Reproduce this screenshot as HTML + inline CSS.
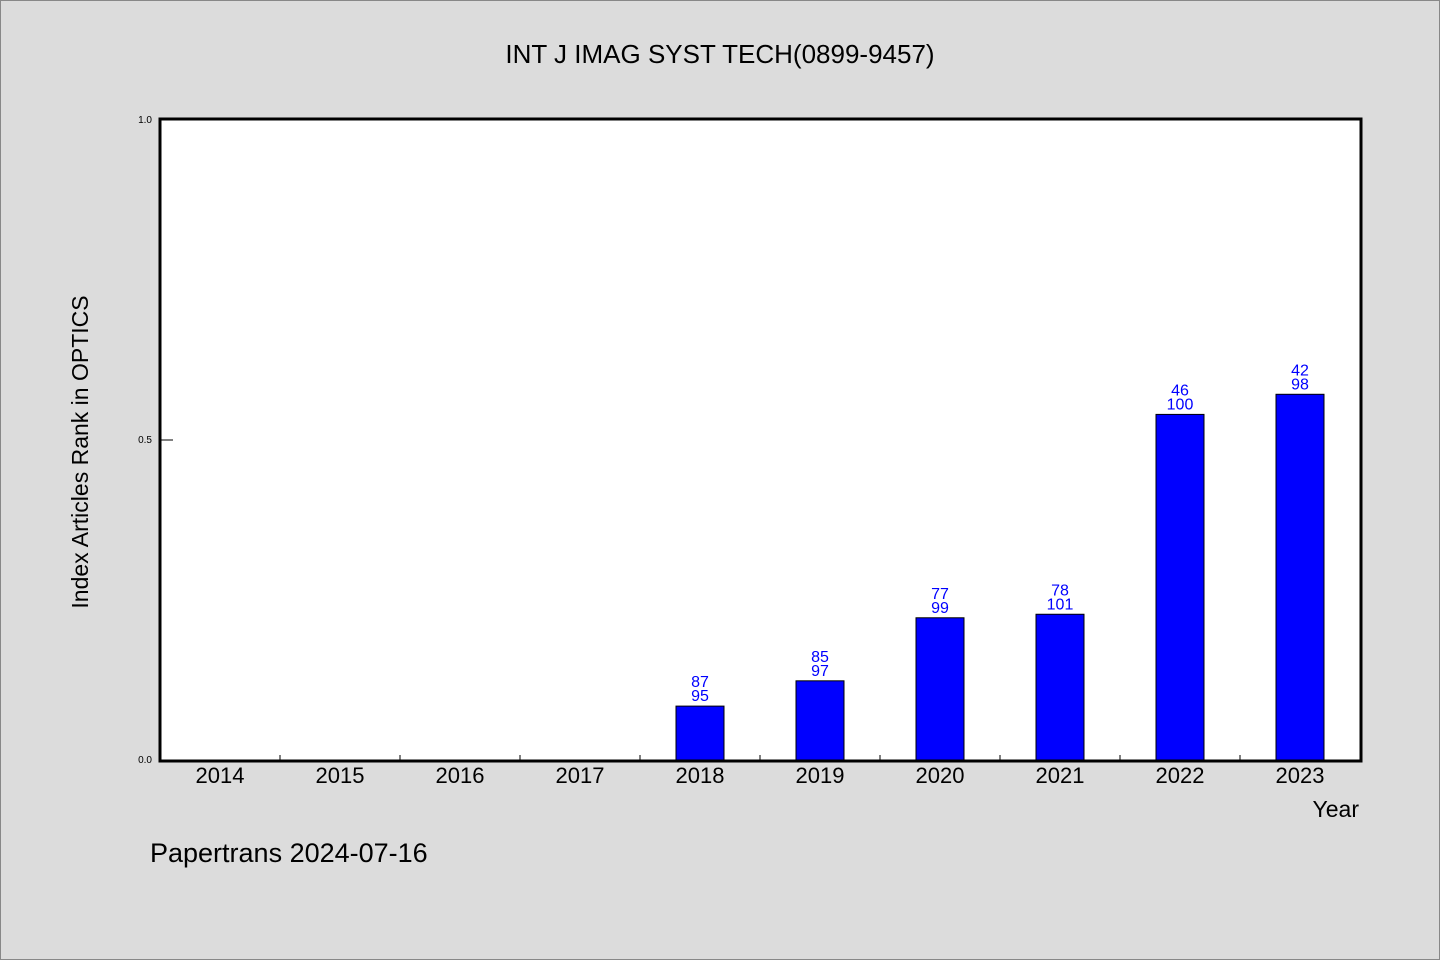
<!DOCTYPE html>
<html><head><meta charset="utf-8"><style>
body{margin:0;background:#dcdcdc}
svg{display:block}
text{font-family:"WenQuanYi Zen Hei","Liberation Sans",sans-serif}
</style></head><body>
<svg id="c" width="1440" height="960">
<rect x="0.5" y="0.5" width="1439" height="959" fill="#dcdcdc" stroke="#888"/>
<text x="720" y="63" text-anchor="middle" font-size="26">INT J IMAG SYST TECH(0899-9457)</text>
<rect x="160" y="119" width="1201" height="642" fill="#fff" stroke="#000" stroke-width="3"/>
<text transform="translate(88,452) rotate(-90)" text-anchor="middle" font-size="23">Index Articles Rank in OPTICS</text>
<text x="1359" y="817" text-anchor="end" font-size="23">Year</text>
<text x="150" y="862" font-size="27">Papertrans 2024-07-16</text>
<g id="g"></g>
</svg>
<script>
const years=["2014","2015","2016","2017","2018","2019","2020","2021","2022","2023"];
const ranks=[null,null,null,null,87,85,77,78,46,42];
const totals=[null,null,null,null,95,97,99,101,100,98];
const yTicks=[0,0.5,1.0];
const yTickLabels=["0.0","0.5","1.0"];
const NS="http://www.w3.org/2000/svg",g=document.getElementById("g");
const x0=160,cw=120,y0=760,ph=640;
const xs=i=>x0+cw*i+cw/2, ys=v=>y0-v*ph;
function mk(t,a){const e=document.createElementNS(NS,t);for(const k in a)e.setAttribute(k,a[k]);g.appendChild(e);return e;}
yTicks.forEach((v,i)=>{
 const t=mk("text",{x:152,y:ys(v)+3,"text-anchor":"end","font-size":10});t.textContent=yTickLabels[i];
 
 
 if(v>0&&v<1){const l=mk("line",{x1:160,x2:173,y1:ys(v),y2:ys(v),stroke:"#000"});
 
 }
});
years.forEach((y,i)=>{
 const t=mk("text",{x:xs(i),y:783,"text-anchor":"middle","font-size":22});t.textContent=y;
 
 
 if(i>0){const l=mk("line",{x1:x0+cw*i,x2:x0+cw*i,y1:755,y2:760,stroke:"#000"});
 
 }
 if(ranks[i]!=null){
  const v=1-ranks[i]/totals[i];
  const b=mk("rect",{x:xs(i)-24,y:ys(v),width:48,height:y0-ys(v),fill:"#0000ff",stroke:"#000","stroke-width":1});
  
  
  const a=mk("text",{x:xs(i),y:ys(v)-19,"text-anchor":"middle","font-size":16,fill:"#0000ff"});a.textContent=ranks[i];
  
  
  const c=mk("text",{x:xs(i),y:ys(v)-5,"text-anchor":"middle","font-size":16,fill:"#0000ff"});c.textContent=totals[i];
  
  
 }
});
</script>
</body></html>
